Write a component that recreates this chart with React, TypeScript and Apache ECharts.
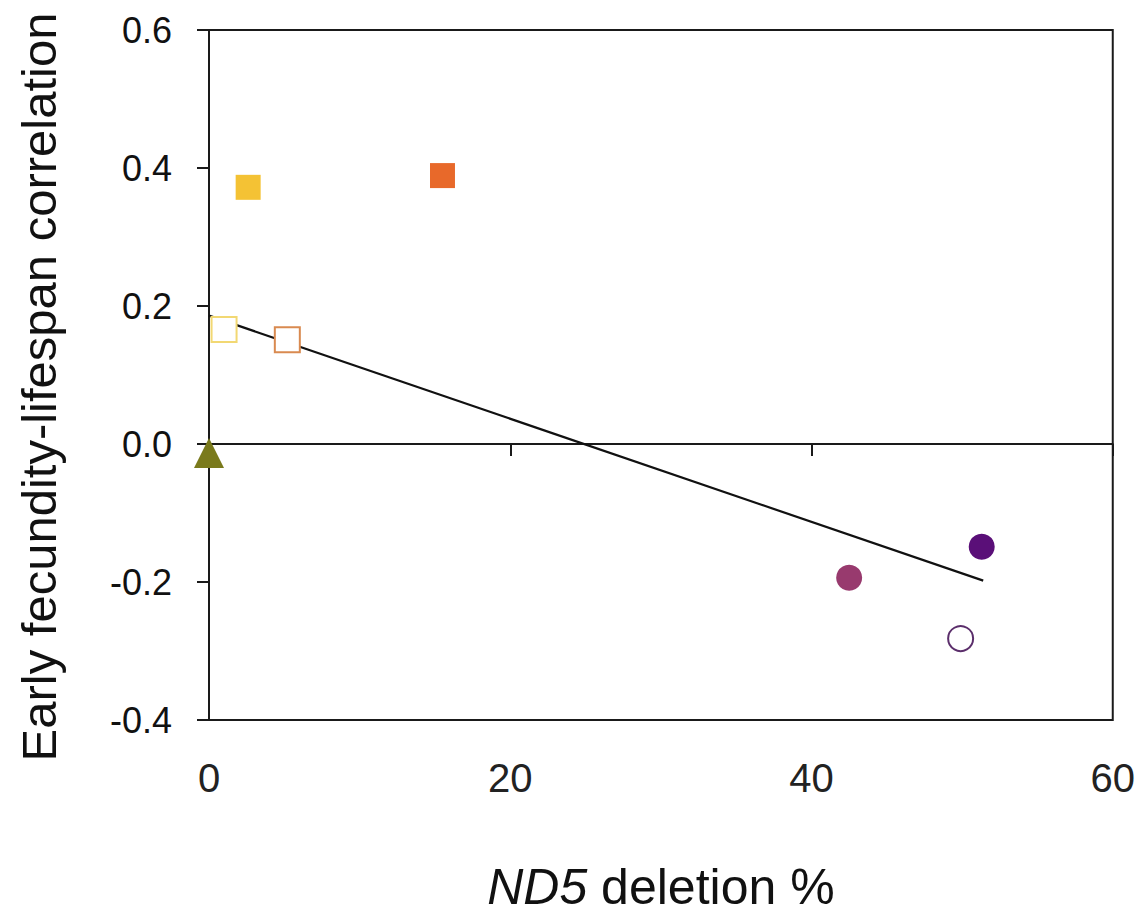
import React, { useEffect, useRef } from "react";
import * as echarts from "echarts";

// ---- data ----
const xTicks = [0, 20, 40, 60];
const yTicks = [-0.4, -0.2, 0.0, 0.2, 0.4, 0.6];

const yellowFilled: number[][] = [[2.6, 0.372]];
const orangeFilled: number[][] = [[15.5, 0.389]];
const yellowOpen: number[][] = [[1.0, 0.166]];
const orangeOpen: number[][] = [[5.2, 0.151]];
const oliveTriangle: number[][] = [[0.0, -0.013]];
const mauveCircle: number[][] = [[42.5, -0.194]];
const purpleCircle: number[][] = [[51.3, -0.149]];
const purpleOpen: number[][] = [[49.9, -0.282]];

const trendX = [0, 51.4];
const trendY = [0.186, -0.198];

const FONT = "'Liberation Sans', Arial, Helvetica, sans-serif";
const AXIS = "#1a1a1a";

export default function App() {
  const ref = useRef<HTMLDivElement>(null);

  useEffect(() => {
    if (!ref.current) return;
    const chart = echarts.init(ref.current, null, { renderer: "svg" });

    const pt = (data: number[][], symbol: string, size: number, color: string, border?: string) => ({
      type: "scatter",
      xAxisIndex: 0,
      yAxisIndex: 0,
      data,
      symbol,
      symbolSize: size,
      itemStyle: border
        ? { color: "#ffffff", borderColor: border, borderWidth: 2, opacity: 1 }
        : { color, borderWidth: 0, opacity: 1 },
      z: 5,
    });

    chart.setOption({
      animation: false,
      backgroundColor: "#ffffff",
      textStyle: { fontFamily: FONT },
      grid: {
        left: 209,
        top: 30,
        width: 904,
        height: 697,
        show: true,
        borderColor: AXIS,
        borderWidth: 2,
        backgroundColor: "transparent",
      },
      xAxis: [
        {
          type: "value",
          min: xTicks[0],
          max: xTicks[xTicks.length - 1],
          interval: 20,
          position: "bottom",
          axisLine: { show: false, onZero: false },
          axisTick: { show: false },
          splitLine: { show: false },
          axisLabel: {
            margin: 38,
            fontSize: 40,
            color: "#222",
            fontFamily: FONT,
          },
          name: "{i|ND5} deletion %",
          nameLocation: "middle",
          nameGap: 142,
          nameTextStyle: {
            fontSize: 50,
            color: "#111",
            fontFamily: FONT,
            rich: {
              i: { fontStyle: "italic", fontSize: 50, color: "#111", fontFamily: FONT },
            },
          },
        },
        {
          type: "value",
          min: xTicks[0],
          max: xTicks[xTicks.length - 1],
          interval: 20,
          position: "bottom",
          axisLine: { show: true, onZero: true, lineStyle: { color: AXIS, width: 2 } },
          axisTick: { show: true, inside: false, length: 12, lineStyle: { color: AXIS, width: 2 } },
          axisLabel: { show: false },
          splitLine: { show: false },
        },
      ],
      yAxis: {
        type: "value",
        min: yTicks[0],
        max: yTicks[yTicks.length - 1],
        interval: 0.2,
        axisLine: { show: true, onZero: false, lineStyle: { color: AXIS, width: 2 } },
        axisTick: { show: true, inside: false, length: 12, lineStyle: { color: AXIS, width: 2 } },
        splitLine: { show: false },
        axisLabel: {
          margin: 37,
          fontSize: 36,
          color: "#111",
          fontFamily: FONT,
          formatter: (v: number) => v.toFixed(1),
        },
        name: "Early fecundity-lifespan correlation",
        nameLocation: "middle",
        nameGap: 146,
        nameTextStyle: { fontSize: 49, color: "#111", fontFamily: FONT, padding: [0, 24, 0, 0] },
      },
      series: [
        {
          type: "line",
          xAxisIndex: 0,
          yAxisIndex: 0,
          data: trendX.map((x, i) => [x, trendY[i]]),
          showSymbol: false,
          symbol: "none",
          lineStyle: { color: "#111", width: 2.2 },
          z: 3,
        },
        pt(yellowFilled, "rect", 25, "#F4C234"),
        pt(orangeFilled, "rect", 25, "#E8692A"),
        pt(yellowOpen, "rect", 25, "", "#F2D873"),
        pt(orangeOpen, "rect", 25, "", "#D98A50"),
        pt(oliveTriangle, "triangle", 30, "#7A7A1C"),
        pt(mauveCircle, "circle", 26, "#983A6E"),
        pt(purpleCircle, "circle", 26, "#5A0F78"),
        pt(purpleOpen, "circle", 25, "", "#5B2E6B"),
      ],
    });

    return () => chart.dispose();
  }, []);

  return (
    <div
      ref={ref}
      style={{ position: "absolute", left: 0, top: 0, width: 1138, height: 917, background: "#fff" }}
    />
  );
}
